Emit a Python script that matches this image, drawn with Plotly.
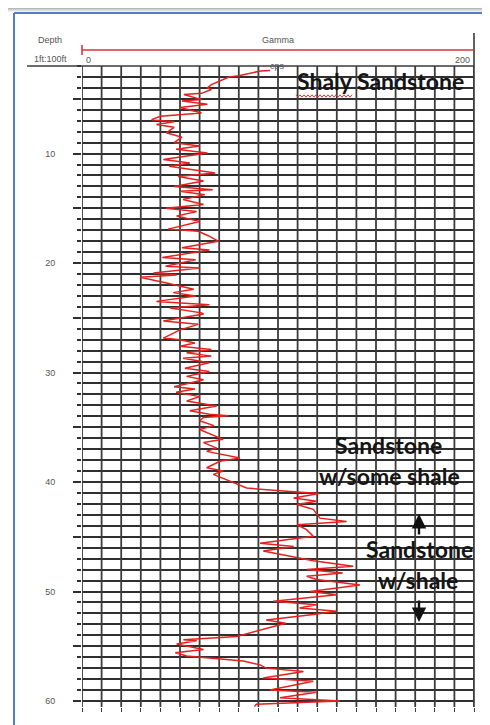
import plotly.graph_objects as go

# ---------------- data ----------------
depth_ft = [
    2.4, 2.45, 2.9, 3.0, 3.7, 4.0, 4.15, 4.5, 4.6, 5.07, 5.2, 5.5, 5.8, 6.3, 6.6, 6.9,
    7.1, 7.35, 7.6, 8.1, 8.5, 9.0, 9.3, 9.6, 9.95, 10.55, 10.85, 11.16, 11.77, 12.1,
    12.5, 13.0, 13.3, 13.45, 13.75, 14.2, 14.65, 15.0, 15.3, 15.7, 16.2, 16.5, 16.9,
    17.1, 17.5, 18.0, 18.3, 18.6, 18.8, 19.5, 19.7, 20.3, 20.45, 20.9, 21.1, 21.3,
    21.8, 22.1, 22.4, 22.7, 23.0, 23.5, 23.8, 24.1, 24.55, 24.65, 25.3, 25.6, 26.1,
    26.85, 27.0, 27.3, 27.6, 27.9, 28.2, 28.5, 28.7, 29.1, 29.6, 29.9, 30.35, 30.65,
    31.3, 31.5, 31.8, 32.2, 32.6, 33.05, 33.5, 33.8, 33.95, 34.1, 34.4, 34.85, 35.2,
    36.1, 36.4, 36.9, 37.2, 37.8, 38.1, 38.7, 39.0, 39.3, 39.8, 40.2, 40.55, 40.85,
    41.05, 41.45, 41.75, 42.05, 42.5, 43.3, 43.6, 43.9, 44.35, 44.95, 45.6, 45.9,
    46.3, 46.6, 47.2, 47.7, 48.0, 48.3, 48.6, 48.9, 49.4, 50.0, 50.3, 50.9, 51.2,
    51.5, 51.8, 52.1, 52.6, 52.9, 53.5, 53.8, 54.1, 54.4, 54.5, 54.8, 55.3, 55.6,
    55.9, 56.35, 56.7, 57.0, 57.3, 57.9, 58.2, 59.0, 59.2, 59.7, 60.0, 60.3, 60.5,
]
gamma_cps = [
    96, 91, 80, 75, 66, 64, 66, 61, 52, 61, 51, 64, 50, 61, 40, 35.5,
    47, 38, 47, 43, 51, 47, 60, 48, 64, 41.5, 55, 44.5, 68, 49,
    62, 47, 66.7, 50, 62.7, 51.6, 62, 42.8, 58.5, 48.3, 60, 53.4, 44,
    59.3, 64.4, 69.5, 60, 51, 65, 41, 58, 42.6, 60, 36.4, 48.3, 29.6,
    42.6, 50, 57, 46.6, 58, 38, 65, 45, 61, 62, 41.5, 59.3, 50,
    41.5, 50, 57.6, 50, 66, 53.4, 66, 51.6, 65, 52.5, 65, 53.4, 62,
    47, 57.6, 48, 60, 53.4, 68.7, 55, 65, 74.7, 62, 60, 67.3, 60,
    72, 62, 68.7, 63.6, 80.6, 70.4, 63.6, 72, 67, 73.8, 79.8, 84, 104.4,
    121, 108, 119.7, 109.7, 118, 121.4, 135, 109.7, 114.6, 118, 90.8, 108,
    92.5, 101, 118, 138.4, 114.6, 133, 114.6, 119.7, 141.8, 116.3, 130, 97.6, 119.7,
    111, 130, 118, 94, 104, 90.8, 85.7, 79, 51.7, 58.5, 48.3, 62, 47.6,
    53.4, 82.3, 90.8, 94, 113, 92.5, 118, 95.9, 119.7, 101, 131.6, 89, 88,
]
depth_major_ticks = [5, 10, 15, 20, 25, 30, 35, 40, 45, 50, 55, 60]
depth_tick_text = ["", "10", "", "20", "", "30", "", "40", "", "50", "", "60"]
gamma_grid = list(range(0, 201, 10))
gamma_range = [0, 200]
depth_range = [60.55, 2.0]

# ---------------- layout geometry ----------------
# the page body has an 8px margin, so everything is laid out 8px up/left
OFF = 8
W, H = 490 - OFF, 725 - OFF
L, R, T, B = 82 - OFF, 474 - OFF, 66 - OFF, 707 - OFF


def xp(px):
    return (px - OFF - L) / (R - L)


def yp(py):
    return (B - (py - OFF)) / (B - T)


grid_h = "#2f2f2f"
grid_v = "#3c3c3c"

# vertical chart grid as a trace on the gamma scale (one segment per grid value)
gx, gy = [], []
for g in gamma_grid:
    gx += [g, g, None]
    gy += [depth_range[0], depth_range[1], None]

fig = go.Figure()
fig.add_trace(go.Scatter(x=gx, y=gy, mode="lines",
                         line=dict(color=grid_v, width=1.8),
                         hoverinfo="skip", cliponaxis=False))
fig.add_trace(go.Scatter(x=gamma_cps, y=depth_ft, mode="lines",
                         line=dict(color="#e3211f", width=1.5),
                         hoverinfo="skip"))

fig.update_layout(
    width=W, height=H,
    margin=dict(l=L, r=W - R, t=T, b=H - B),
    paper_bgcolor="white", plot_bgcolor="white",
    showlegend=False,
)
fig.update_xaxes(
    range=gamma_range, tickmode="linear", tick0=0, dtick=10,
    showgrid=False,
    showticklabels=False, ticks="outside", ticklen=4, tickcolor=grid_v,
    tickwidth=1.3, zeroline=False, showline=False,
)
fig.update_yaxes(
    range=depth_range, tickmode="array",
    tickvals=depth_major_ticks, ticktext=depth_tick_text,
    showgrid=True, gridcolor=grid_h, gridwidth=1.6,
    ticks="outside", ticklen=8, tickcolor=grid_h, tickwidth=1.6,
    ticklabelstandoff=16,
    tickfont=dict(family="Liberation Sans", size=9, color="#555"),
    minor=dict(tickmode="linear", tick0=0, dtick=1, showgrid=True,
               gridcolor=grid_h, gridwidth=1.6, ticks="outside",
               ticklen=4, tickcolor=grid_h, tickwidth=1.6),
    zeroline=False, showline=False,
)

shapes = []
# top gray shadow band
for i, c in enumerate(["#b8b8b8", "#cdcdcd", "#e0e0e0", "#efefef"]):
    shapes.append(dict(type="rect", xref="paper", yref="paper",
                       x0=xp(0), x1=xp(W + 2 * OFF), y0=yp(OFF + i), y1=yp(OFF + i + 1),
                       line=dict(width=0), fillcolor=c, layer="below"))
# blue frame
blue = "#4f7fc4"
shapes.append(dict(type="line", xref="paper", yref="paper",
                   x0=xp(14), x1=xp(14), y0=yp(13), y1=yp(740),
                   line=dict(color=blue, width=2)))
shapes.append(dict(type="line", xref="paper", yref="paper",
                   x0=xp(14), x1=xp(500), y0=yp(13), y1=yp(13),
                   line=dict(color=blue, width=2)))
# header separator and right border
shapes.append(dict(type="line", xref="paper", yref="paper",
                   x0=xp(27), x1=xp(474), y0=yp(66), y1=yp(66),
                   line=dict(color="#3a3a3a", width=1.6)))
shapes.append(dict(type="line", xref="paper", yref="paper",
                   x0=xp(474), x1=xp(474), y0=yp(33), y1=yp(707),
                   line=dict(color="#3a3a3a", width=1.6)))
# gamma scale bar
shapes.append(dict(type="line", xref="paper", yref="paper",
                   x0=xp(82), x1=xp(474), y0=yp(50), y1=yp(50),
                   line=dict(color="#d23a3a", width=1.6)))
shapes.append(dict(type="line", xref="paper", yref="paper",
                   x0=xp(82), x1=xp(82), y0=yp(45), y1=yp(55),
                   line=dict(color="#d23a3a", width=1.6)))
# spell-check squiggle under "Shaly"
pts = []
x = 296
k = 0
while x <= 352:
    pts.append((xp(x), yp(96 + (1.2 if k % 2 else -1.2))))
    x += 2
    k += 1
path = "M " + " L ".join(f"{a:.5f},{b:.5f}" for a, b in pts)
shapes.append(dict(type="path", xref="paper", yref="paper", path=path,
                   line=dict(color="#d04040", width=1)))
fig.update_layout(shapes=shapes)

small = dict(family="Liberation Sans", size=9, color="#555")
big = dict(family="Lato", size=23, color="#151515")
ann = []


def txt(px, py, s, font, xa="center"):
    ann.append(dict(x=xp(px), y=yp(py), xref="paper", yref="paper", text=s,
                    showarrow=False, font=font, xanchor=xa, yanchor="middle"))


txt(50, 40, "Depth", small)
txt(50, 59, "1ft:100ft", small)
txt(278, 40, "Gamma", small)
txt(88, 60, "0", small)
txt(277, 66, "cps", small)
txt(462, 60, "200", small)

txt(380, 81, "<b>Shaly Sandstone</b>", big)
txt(388, 445, "<b>Sandstone</b>", big)
txt(389, 476, "<b>w/some shale</b>", big)
txt(419, 549, "<b>Sandstone</b>", big)
txt(418, 580, "<b>w/shale</b>", big)

# arrows
ann.append(dict(x=xp(419), y=yp(514), xref="paper", yref="paper", text="",
                showarrow=True, ax=0, ay=22, arrowhead=2, arrowsize=1.2,
                arrowwidth=2.4, arrowcolor="#111"))
ann.append(dict(x=xp(419), y=yp(622), xref="paper", yref="paper", text="",
                showarrow=True, ax=0, ay=-23, arrowhead=2, arrowsize=1.2,
                arrowwidth=2.4, arrowcolor="#111"))
fig.update_layout(annotations=ann)

fig.write_html("out.html")
